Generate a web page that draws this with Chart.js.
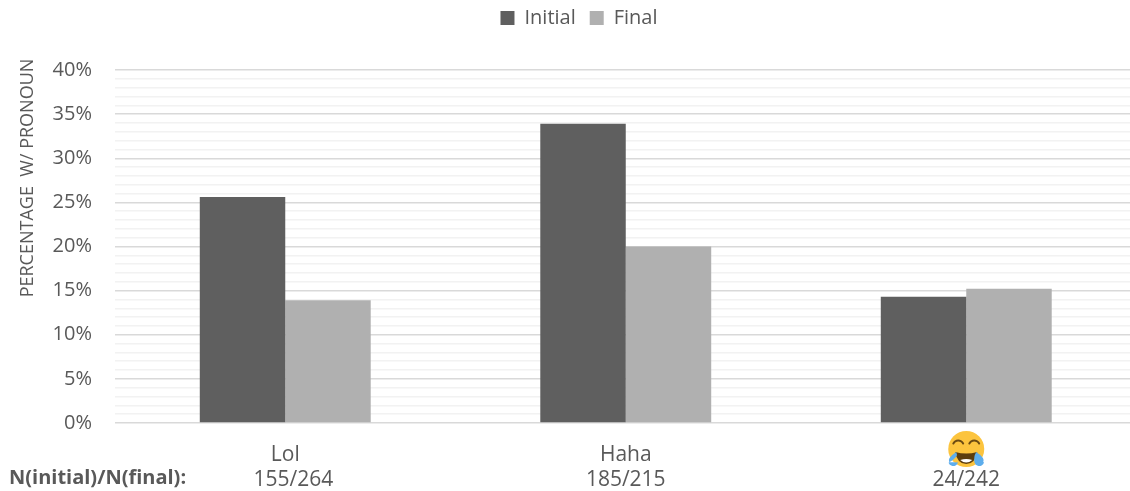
<!DOCTYPE html>
<html>
<head>
<meta charset="utf-8">
<title>Pronoun use by position</title>
<script src="https://cdn.jsdelivr.net/npm/chart.js@4"></script>
<style>
  html, body { margin: 0; padding: 0; background: #fff; overflow: hidden; }
  #wrap { width: 1130px; height: 491px; overflow: hidden; }
</style>
</head>
<body>
<div id="wrap"><canvas id="chartPronoun" width="1158" height="491"></canvas></div>
<script>
const categories = ['Lol', 'Haha', ''];
const counts = ['   155/264', '185/215', '24/242'];
const initialValues = [25.6, 33.9, 14.3];
const finalValues = [13.9, 20.0, 15.2];

const TEXT = '#595959';
const FONT = '"Open Sans", sans-serif';

// row label, axis title and the laughing face above the third count
const extras = {
  id: 'extras',
  beforeInit(chart) {
    // leave a gap under the legend
    const fit = chart.legend.fit;
    chart.legend.fit = function () {
      fit.call(this);
      this.height += 32;
    };
  },
  afterDraw(chart) {
    const ctx = chart.ctx;
    const x = chart.scales.x;
    const y = chart.scales.y;

    ctx.save();
    ctx.font = 'bold 20px ' + FONT;
    ctx.fillStyle = TEXT;
    ctx.textAlign = 'left';
    ctx.textBaseline = 'middle';
    ctx.fillText('N(initial)/N(final):', 9, x.top + 55);
    ctx.restore();

    ctx.save();
    ctx.translate(28, y.getPixelForValue(40) + 108);
    ctx.rotate(-Math.PI / 2);
    ctx.font = '18px ' + FONT;
    ctx.fillStyle = TEXT;
    ctx.textAlign = 'center';
    ctx.textBaseline = 'middle';
    ctx.fillText('PERCENTAGE  W/ PRONOUN', 0, 0);
    ctx.restore();

    drawFace(ctx, x.getPixelForValue(2), x.top + 26, 18);
  }
};

function drawFace(ctx, cx, cy, r) {
  ctx.save();
  ctx.fillStyle = '#fcc43e';
  ctx.beginPath();
  ctx.arc(cx, cy, r, 0, Math.PI * 2);
  ctx.fill();

  // squinting eyes
  ctx.strokeStyle = '#6b4a12';
  ctx.lineWidth = 2;
  ctx.lineCap = 'round';
  [-1, 1].forEach(function (s) {
    ctx.beginPath();
    ctx.arc(cx + s * 8, cy - 3, 5.5, Math.PI * 1.15, Math.PI * 1.85);
    ctx.stroke();
  });

  // open mouth with teeth
  ctx.fillStyle = '#5c3d0e';
  ctx.beginPath();
  ctx.moveTo(cx - 11, cy + 3);
  ctx.quadraticCurveTo(cx, cy + 6, cx + 11, cy + 3);
  ctx.quadraticCurveTo(cx + 9, cy + 15, cx, cy + 15);
  ctx.quadraticCurveTo(cx - 9, cy + 15, cx - 11, cy + 3);
  ctx.fill();
  ctx.fillStyle = '#fff';
  ctx.beginPath();
  ctx.moveTo(cx - 6, cy + 11);
  ctx.quadraticCurveTo(cx, cy + 9, cx + 6, cy + 11);
  ctx.quadraticCurveTo(cx, cy + 16, cx - 6, cy + 11);
  ctx.fill();

  // tears
  ctx.fillStyle = '#5dadec';
  [-1, 1].forEach(function (s) {
    ctx.beginPath();
    ctx.moveTo(cx + s * 10, cy + 3);
    ctx.quadraticCurveTo(cx + s * 19, cy + 9, cx + s * 17, cy + 13);
    ctx.arc(cx + s * 13, cy + 12, 5, 0.3, 2.8);
    ctx.quadraticCurveTo(cx + s * 7, cy + 8, cx + s * 10, cy + 3);
    ctx.fill();
  });
  ctx.restore();
}

new Chart(document.getElementById('chartPronoun'), {
  type: 'bar',
  plugins: [extras],
  data: {
    labels: categories.map(function (c, i) { return [c, counts[i]]; }),
    datasets: [
      { label: 'Initial', data: initialValues, backgroundColor: '#5f5f5f' },
      { label: 'Final', data: finalValues, backgroundColor: '#b0b0b0' }
    ]
  },
  options: {
    responsive: false,
    animation: false,
    layout: { padding: { top: -6, right: 21.5, bottom: 0, left: 21.5 } },
    datasets: { bar: { barPercentage: 1, categoryPercentage: 0.502 } },
    plugins: {
      tooltip: { enabled: false },
      legend: {
        position: 'top',
        labels: {
          boxWidth: 14,
          boxHeight: 14,
          padding: 14,
          color: TEXT,
          font: { family: FONT, size: 20 }
        }
      }
    },
    scales: {
      x: {
        afterFit(scale) { scale.height = 68; },
        grid: { display: false },
        border: { display: false },
        ticks: {
          color: TEXT,
          padding: 12,
          maxRotation: 0,
          font: { family: FONT, size: 21, lineHeight: 1.19 }
        }
      },
      y: {
        min: 0,
        max: 40,
        afterFit(scale) { scale.width = 93.5; },
        border: { display: false },
        grid: {
          drawTicks: false,
          lineWidth: 1.5,
          color(ctx) { return ctx.tick.value % 5 === 0 ? '#d9d9d9' : '#f2f2f2'; }
        },
        ticks: {
          stepSize: 1,
          autoSkip: false,
          padding: 23,
          color: TEXT,
          font: { family: FONT, size: 20 },
          callback(v) { return v % 5 === 0 ? v + '%' : ''; }
        }
      }
    }
  }
});
</script>
</body>
</html>
